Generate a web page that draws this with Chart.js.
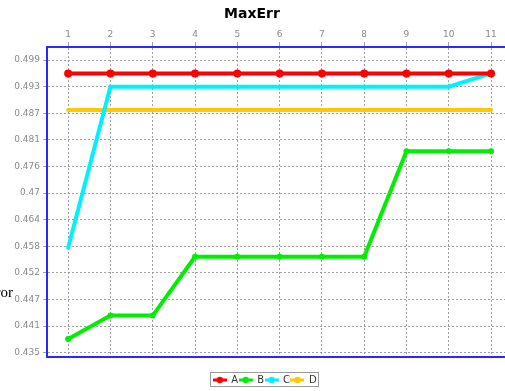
<!DOCTYPE html>
<html>
<head>
<meta charset="utf-8">
<script src="https://cdn.jsdelivr.net/npm/chart.js@4/dist/chart.umd.min.js"></script>
<style>
  html, body { margin: 0; padding: 0; background: #fff; overflow: hidden; }
  /* the reference is cut off on its right side, so the chart runs past the window */
  #wrap { width: 520px; height: 391px; }
</style>
</head>
<body>
<div id="wrap"><canvas id="chartMaxErr"></canvas></div>
<script>
// x categories (run number)
var categories = [1, 2, 3, 4, 5, 6, 7, 8, 9, 10, 11];

// series values
var seriesA = [0.4959, 0.4959, 0.4959, 0.4959, 0.4959, 0.4959, 0.4959, 0.4959, 0.4959, 0.4959, 0.4959];
var seriesB = [0.4380, 0.4431, 0.4431, 0.4559, 0.4559, 0.4559, 0.4559, 0.4559, 0.4789, 0.4789, 0.4789];
var seriesC = [0.4579, 0.4930, 0.4930, 0.4930, 0.4930, 0.4930, 0.4930, 0.4930, 0.4930, 0.4930, 0.4959];
var seriesD = [0.4879, 0.4879, 0.4879, 0.4879, 0.4879, 0.4879, 0.4879, 0.4879, 0.4879, 0.4879, 0.4879];

// y ticks as printed on the axis
var yTickValues = [0.435, 0.4408, 0.4466, 0.4524, 0.4582, 0.464, 0.4698, 0.4756, 0.4814, 0.4872, 0.493, 0.4988];
var yTickLabels = ["0.435", "0.441", "0.447", "0.452", "0.458", "0.464", "0.47", "0.476", "0.481", "0.487", "0.493", "0.499"];

var BLUE = "rgb(40, 40, 255)";
var GRID = "rgba(150, 150, 150, 0.9)";
var TICK_FONT = { family: "DejaVu Sans", size: 9 };

function toPoints(values) {
    return categories.map(function (c, i) { return { x: c, y: values[i] }; });
}

function legendMarker(color) {
    var c = document.createElement("canvas");
    c.width = 14;
    c.height = 8;
    var ctx = c.getContext("2d");
    ctx.strokeStyle = color;
    ctx.lineWidth = 3;
    ctx.beginPath();
    ctx.moveTo(0, 4);
    ctx.lineTo(14, 4);
    ctx.stroke();
    ctx.fillStyle = color;
    ctx.beginPath();
    ctx.arc(7, 4, 3.2, 0, Math.PI * 2);
    ctx.fill();
    return c;
}

function makeSet(label, values, color, radius, width) {
    return {
        label: label,
        data: toPoints(values),
        borderColor: color,
        backgroundColor: color,
        borderWidth: width,
        pointRadius: radius,
        pointHoverRadius: radius,
        pointBorderWidth: 0,
        pointStyle: "circle",
        tension: 0,
        fill: false,
        legendImage: legendMarker(color)
    };
}

// canvas is wider than the window: pull the title back to the window centre,
// and the legend sits a little right of it
var boxShift = {
    id: "boxShift",
    afterLayout: function (chart) {
        if (chart.titleBlock) {
            chart.titleBlock.left -= 8;
            chart.titleBlock.right -= 8;
        }
        if (chart.legend) {
            chart.legend.left += 5;
            chart.legend.right += 5;
        }
    }
};

var legendFrame = {
    id: "legendFrame",
    afterDraw: function (chart) {
        var boxes = chart.legend && chart.legend.legendHitBoxes;
        if (!boxes || !boxes.length) return;
        var left = Infinity, right = -Infinity, top = Infinity, bottom = -Infinity;
        boxes.forEach(function (b) {
            left = Math.min(left, b.left);
            right = Math.max(right, b.left + b.width);
            top = Math.min(top, b.top);
            bottom = Math.max(bottom, b.top + b.height);
        });
        var ctx = chart.ctx;
        ctx.save();
        ctx.strokeStyle = "#9a9a9a";
        ctx.lineWidth = 1;
        ctx.strokeRect(Math.round(left) - 2.5, Math.round(top) - 2.5, Math.round(right - left) + 5, Math.round(bottom - top) + 4);
        ctx.restore();
    }
};

var sideLabel = {
    id: "sideLabel",
    afterDraw: function (chart) {
        var ctx = chart.ctx;
        ctx.save();
        ctx.font = "15px 'Liberation Serif'";
        ctx.fillStyle = "#000";
        ctx.textAlign = "right";
        ctx.textBaseline = "alphabetic";
        ctx.fillText("Error", 13, 297);
        ctx.restore();
    }
};

var chart = new Chart(document.querySelector("#chartMaxErr").getContext("2d"), {
    type: "line",
    data: {
        datasets: [
            makeSet("A", seriesA, "rgb(255, 0, 0)", 4, 4),
            makeSet("B", seriesB, "rgb(0, 238, 0)", 3, 4),
            makeSet("C", seriesC, "rgb(0, 240, 255)", 2, 4),
            makeSet("D", seriesD, "rgb(255, 200, 0)", 2, 4)
        ]
    },
    options: {
        responsive: true,
        maintainAspectRatio: false,
        animation: false,
        layout: { padding: 0 },
        plugins: {
            title: {
                display: true,
                text: "MaxErr",
                color: "#000",
                font: { family: "DejaVu Sans", size: 14, weight: "bold", lineHeight: 1.2 },
                padding: { top: 6, bottom: 4 }
            },
            legend: {
                position: "bottom",
                maxHeight: 17,
                labels: {
                    usePointStyle: true,
                    pointStyleWidth: 13,
                    padding: 1,
                    color: "#333",
                    font: { family: "DejaVu Sans", size: 10 },
                    generateLabels: function (ch) {
                        return ch.data.datasets.map(function (ds, i) {
                            return {
                                text: ds.label,
                                pointStyle: ds.legendImage,
                                fillStyle: ds.borderColor,
                                strokeStyle: ds.borderColor,
                                lineWidth: 0,
                                fontColor: "#333",
                                hidden: false,
                                datasetIndex: i
                            };
                        });
                    }
                }
            },
            tooltip: { enabled: false }
        },
        scales: {
            x: {
                type: "linear",
                position: "top",
                min: 0.5,
                max: 11.59,
                afterBuildTicks: function (scale) {
                    scale.ticks = categories.map(function (c) { return { value: c }; });
                },
                afterFit: function (scale) { scale.height = 20.2; },
                ticks: {
                    color: "#8a8a8a",
                    font: TICK_FONT,
                    padding: 2,
                    maxRotation: 0,
                    callback: function (v) { return String(v); }
                },
                grid: { color: GRID, lineWidth: 1, drawTicks: true, tickLength: 5 },
                border: { display: true, color: BLUE, width: 2, dash: [2, 2] }
            },
            xBottom: {
                type: "linear",
                position: "bottom",
                min: 0,
                max: 1,
                afterFit: function (scale) { scale.height = 17; },
                ticks: { display: false },
                grid: { display: false, drawTicks: false },
                border: { display: true, color: BLUE, width: 2 }
            },
            y: {
                type: "linear",
                min: 0.43406,
                max: 0.50166,
                afterBuildTicks: function (scale) {
                    scale.ticks = yTickValues.map(function (v) { return { value: v }; });
                },
                afterFit: function (scale) { scale.width = 47; },
                ticks: {
                    color: "#8a8a8a",
                    font: TICK_FONT,
                    padding: 3,
                    callback: function (v, i) { return yTickLabels[i]; }
                },
                grid: { color: GRID, lineWidth: 1, drawTicks: true, tickLength: 4 },
                border: { display: true, color: BLUE, width: 2, dash: [2, 2] }
            }
        }
    },
    plugins: [boxShift, legendFrame, sideLabel]
});
</script>
</body>
</html>
